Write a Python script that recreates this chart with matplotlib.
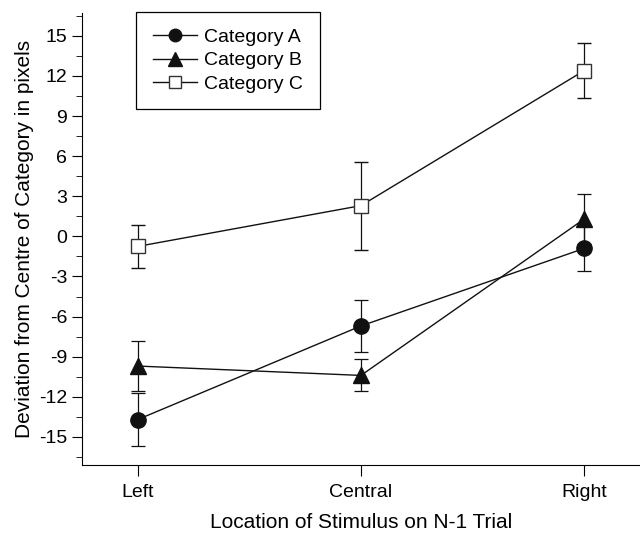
import matplotlib.pyplot as plt
from matplotlib.lines import Line2D
from matplotlib.ticker import MultipleLocator

plt.rcParams['font.family'] = ['Liberation Sans', 'DejaVu Sans']
plt.rcParams['axes.unicode_minus'] = False

locations = ["Left", "Central", "Right"]
cat_a = [-13.7, -6.7, -0.9]
cat_a_err = [2.0, 1.95, 1.7]
cat_b = [-9.7, -10.4, 1.3]
cat_b_err = [1.9, 1.2, 1.85]
cat_c = [-0.75, 2.3, 12.4]
cat_c_err = [1.6, 3.3, 2.05]

fig = plt.figure(figsize=(6.4, 5.36), dpi=100)
ax = fig.add_axes([0.128, 0.1325, 0.872, 0.843])

x = range(len(locations))
ax.errorbar(x, cat_a, yerr=cat_a_err, color='#111111', lw=1.0, marker='o', ms=11,
            mfc='#111111', mec='#111111', capsize=5, elinewidth=0.9, capthick=0.9)
ax.errorbar(x, cat_b, yerr=cat_b_err, color='#111111', lw=1.0, marker='^', ms=12,
            mfc='#111111', mec='#111111', capsize=5, elinewidth=0.9, capthick=0.9)
ax.errorbar(x, cat_c, yerr=cat_c_err, color='#111111', lw=1.0, marker='s', ms=9.5,
            mfc='white', mec='#333333', mew=1.0, capsize=5, elinewidth=0.9, capthick=0.9)

ax.set_xlim(-0.25, 2.25)
ax.set_ylim(-17.1, 16.7)
ax.set_xticks(list(x))
ax.set_xticklabels(locations, fontsize=14)
ax.yaxis.set_major_locator(MultipleLocator(3))
ax.yaxis.set_minor_locator(MultipleLocator(1.5))
ax.tick_params(axis='y', which='major', length=7, labelsize=14)
ax.tick_params(axis='y', which='minor', length=4)
ax.tick_params(axis='x', length=8, labelsize=14, pad=6)
ax.spines['top'].set_visible(False)
ax.spines['right'].set_visible(False)

ax.set_xlabel("Location of Stimulus on N-1 Trial", fontsize=15, labelpad=8)
ax.set_ylabel("Deviation from Centre of Category in pixels", fontsize=15, labelpad=4)

handles = [
    Line2D([], [], color='#111111', lw=1.0, marker='o', ms=9, mfc='#111111', mec='#111111'),
    Line2D([], [], color='#111111', lw=1.0, marker='^', ms=10, mfc='#111111', mec='#111111'),
    Line2D([], [], color='#111111', lw=1.0, marker='s', ms=8, mfc='white', mec='#333333'),
]
leg = ax.legend(handles, ["Category A", "Category B", "Category C"],
                loc='upper left', bbox_to_anchor=(0.097, 1.003), borderaxespad=0,
                fontsize=14, frameon=True, fancybox=False, edgecolor='black',
                framealpha=1, handlelength=2.3, borderpad=0.85, labelspacing=0.3,
                handletextpad=0.35)
leg.get_frame().set_linewidth(0.9)

fig.savefig("out.png", dpi=100)
